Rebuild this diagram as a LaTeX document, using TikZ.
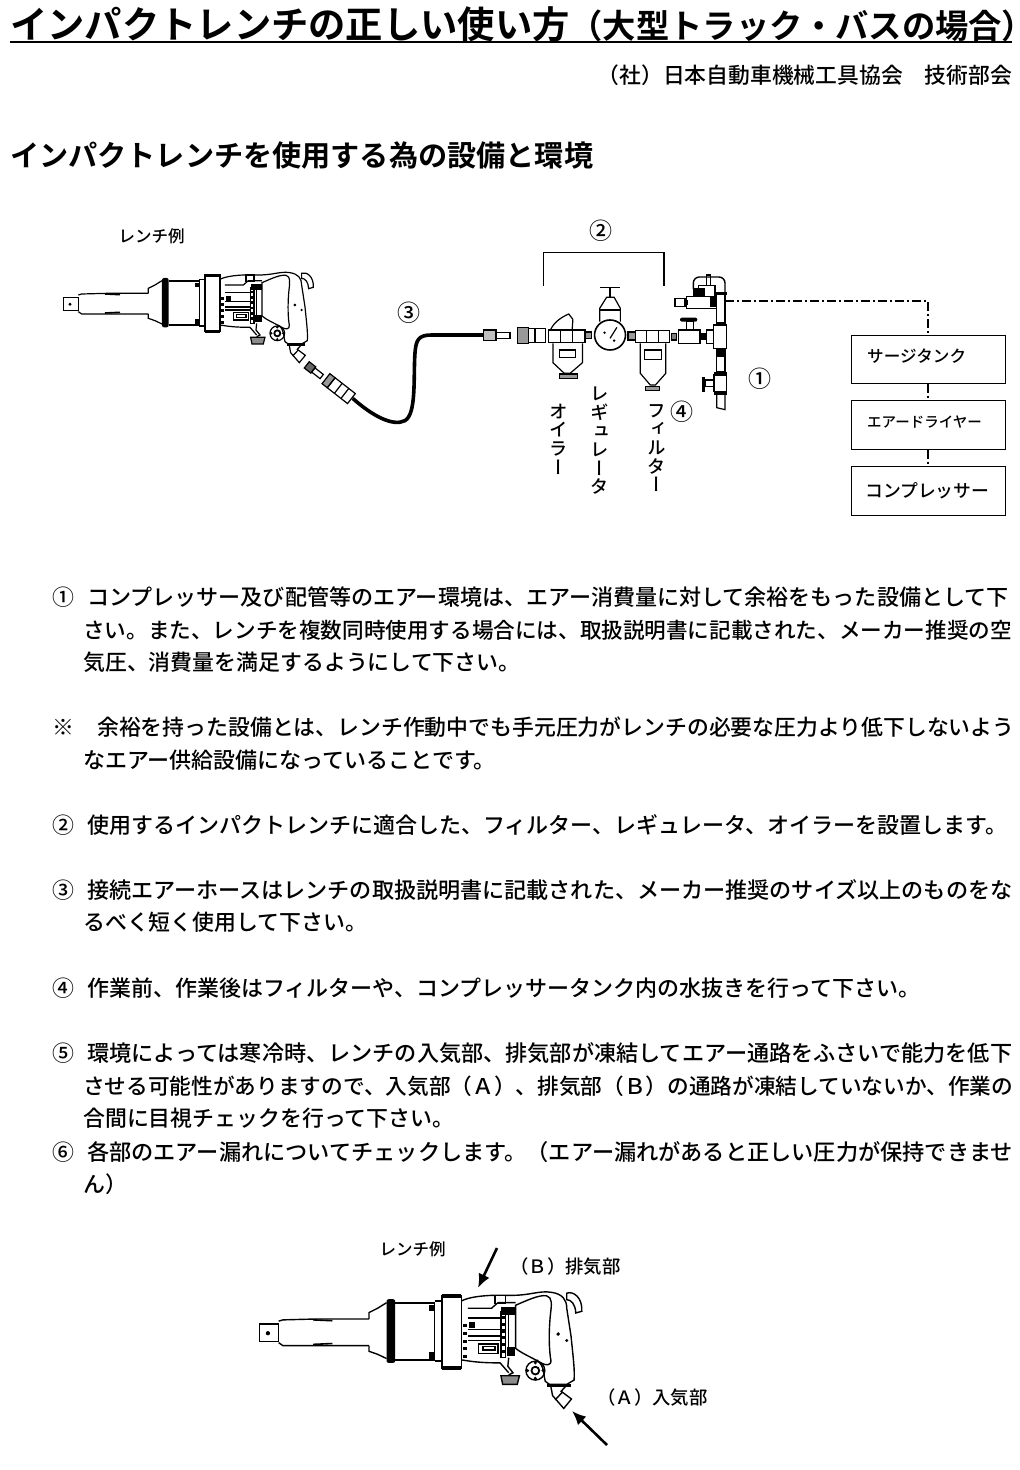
\documentclass[tikz,border=0pt]{standalone}
\usepackage{fontspec}
\usepackage{amsmath,graphicx}
\usetikzlibrary{arrows.meta}
\usetikzlibrary{positioning}
\newfontfamily\jp{Noto Sans CJK JP Medium}
\newfontfamily\jpm{Noto Sans CJK JP Medium}
\newfontfamily\jpb{Noto Sans CJK JP Bold}
\newfontfamily\jph[RawFeature=+halt]{Noto Sans CJK JP Bold}
\newfontfamily\jpv[RawFeature=+vert]{Noto Sans CJK JP Medium}

\newcommand{\drawwrench}{
    % drive and shank
    \draw [toolline] (70,262) rectangle (115,302);
    \fill (90,283) circle [radius=5];
    \draw [toolline] (115,255) -- (125,252) -- (200,250) -- (325,250);
    \draw [toolline] (115,305) -- (125,312) -- (200,312) -- (325,312);
    \draw [line width=1.6pt] (195,252) -- (240,254);
    \draw [line width=1.6pt] (195,309) -- (240,307);
    % hammer case
    \draw [toolline] (325,250) -- (325,235) -- (345,225) -- (366,212);
    \draw [toolline] (325,312) -- (325,325) -- (345,332) -- (366,342);
    \fill [rounded corners=2] (366,204) rectangle (386,352);
    \draw [toolline] (386,213) -- (478,213) -- (478,345) -- (386,345);
    \fill (465,218) rectangle (478,232);
    \fill (465,326) rectangle (478,342);
    \draw [toolline] (478,208) -- (495,208) -- (495,348) -- (478,348);
    \draw [toolline] (495,195) rectangle (540,365);
    \fill (495,192) rectangle (540,200);
    \fill (495,360) rectangle (540,368);
    % body and handle
    \draw [toolline] (540,208) .. controls (555,200) and (590,193) .. (650,195) .. controls (700,196) and (720,183) .. (750,188) .. controls (775,192) and (785,205) .. (785,225) -- (795,290) .. controls (800,340) and (804,370) .. (802,392) -- (785,402) -- (745,402) -- (735,395) .. controls (730,380) and (735,360) .. (715,345);
    \draw [toolline] (666,218) .. controls (690,208) and (720,193) .. (738,196) .. controls (752,200) and (750,215) .. (747,240) .. controls (742,290) and (745,330) .. (748,345) .. controls (750,360) and (735,358) .. (725,352) .. controls (705,340) and (680,330) .. (666,318) -- cycle;
    \draw [toolline] (785,190) .. controls (800,184) and (822,200) .. (820,232) -- (806,236) .. controls (805,215) and (795,205) .. (785,205) -- cycle;
    \draw [toolline] (540,345) .. controls (570,350) and (590,352) .. (630,352) -- (650,375);
    \draw [toolline] (555,225) -- (610,225) -- (625,212) -- (666,212);
    \draw [toolline] (618,195) rectangle (642,214);
    \fill (765,285) circle [radius=4.5];
    \fill (785,300) circle [radius=4];
    % motor housing details
    \foreach \y in {262,280,298,316,334} {
      \fill (544,\y) rectangle (552,\y+7);
    }
    \foreach \y in {232,248,264,280,296,312,328} {
      \draw [toolline] (632,\y) rectangle (642,\y+12);
    }
    \fill (632,222) rectangle (665,240);
    \fill (645,314) rectangle (665,335);
    \draw [toolline] (650,240) -- (650,314);
    \draw [toolline] (555,248) -- (630,248);
    \draw [line width=2pt] (555,290) -- (630,290);
    \draw [toolline] (555,275) -- (630,275);
    \draw [toolline] (555,300) -- (630,300);
    \draw [toolline] (580,308) rectangle (625,330);
    \draw [toolline] (590,314) rectangle (618,322);
    \fill (558,258) rectangle (572,272);
    % knobs and inlet elbow
    \draw [toolline] (712,370) circle [radius=22];
    \draw [line width=1.8pt] (712,370) circle [radius=9];
    \fill (712,352) circle [radius=4];
    \fill (712,388) circle [radius=4];
    \fill (694,370) circle [radius=4];
    \fill (730,370) circle [radius=4];
    \draw [toolline] (650,340) -- (648,360) -- (660,375) -- (650,380);
    \draw [toolline, fill=black!45] (632,382) -- (675,382) -- (670,402) -- (636,402) -- cycle;
    \fill (740,400) rectangle (795,407);
    \draw [toolline] (748,407) -- (752,428) -- (778,458) -- (796,436) -- (772,418) -- (782,407);
    \draw [toolline] (758,438) -- (775,420);
}

\begin{document}
\begin{tikzpicture}[x=1pt,y=-1pt,
    toolline/.style={line width=1.2pt},
    tankbox/.style={draw,line width=1pt,minimum width=154pt,inner sep=0pt},
    bodytext/.style={anchor=west,inner sep=0pt,font=\jpm\fontsize{#1}{24}\selectfont},
    bodytext/.default=21.9,
    smalltext/.style={inner sep=0pt,font=\jpm\fontsize{16.5}{18}\selectfont},
    marktext/.style={inner sep=0pt,font=\jp\fontsize{23}{24}\selectfont},
    stacktext/.style={inner sep=0pt,align=center,font=\jpv\fontsize{18.4}{18.6}\selectfont},
    dashdot/.style={line width=1.1pt,dash pattern=on 9pt off 3pt on 2pt off 3pt},
    bigarrow/.style={-{Latex[length=14pt,width=12pt]},line width=2.6pt}]
    \useasboundingbox (0,0) rectangle (1020,1470);

    % headings
    \node [anchor=west,inner sep=0pt,font=\jpb\fontsize{37.3}{38}\selectfont] (title) at (10,24) {インパクトレンチの正しい使い方{\fontsize{33.3}{38}\selectfont（大型トラック・バスの場合{\jph ）}}};
    \draw [line width=1.8pt] (10,42) -- (1012,42);
    \node [anchor=east,inner sep=0pt,font=\jpm\fontsize{21.8}{24}\selectfont] (society) at (1012,75) {（社）日本自動車機械工具協会　技術部会};
    \node [anchor=west,inner sep=0pt,font=\jpb\fontsize{29.15}{32}\selectfont] (heading) at (10,155) {インパクトレンチを使用する為の設備と環境};

    % wrench with hose
    \node [smalltext,anchor=west] (sample) at (118.5,236) {レンチ例};
    \begin{scope}[shift={(40,210)},x=0.3333pt,y=-0.3333pt]
      \drawwrench
      \draw [toolline,fill=black!60,rotate around={-38:(820,480)}] (795,468) rectangle (820,492);
      \draw [toolline,rotate around={-38:(820,480)}] (820,472) rectangle (852,488);
      \draw [toolline,fill=black!40,rotate around={-38:(895,535)}] (848,516) rectangle (868,554);
      \draw [toolline,rotate around={-38:(895,535)}] (868,516) rectangle (945,554);
      \draw [toolline,rotate around={-38:(895,535)}] (895,516) -- (895,554) (920,516) -- (920,554);
      \draw [line width=3.6pt] (938,565) .. controls (1000,620) and (1060,650) .. (1095,632) .. controls (1130,612) and (1120,500) .. (1125,430) .. controls (1128,390) and (1135,375) .. (1175,375) -- (1330,375);
      \draw [toolline,fill=black!25] (1330,360) rectangle (1368,392);
      \draw [toolline] (1368,367) rectangle (1410,386);
    \end{scope}

    % regulator set
    \begin{scope}[shift={(480,210)},x=0.344pt,y=-0.3333pt]
      \draw [line width=1.4pt] (185,228) -- (185,128) -- (535,128) -- (535,228);
      % coupler
      \draw [toolline,fill=black!40] (108,352) rectangle (140,400);
      \draw [toolline] (140,355) rectangle (190,398);
      \draw [toolline] (160,355) -- (160,398);
      % oiler
      \draw [toolline] (200,360) rectangle (305,398);
      \draw [toolline] (235,360) -- (235,398) (270,360) -- (270,398);
      \draw [toolline] (205,360) .. controls (215,335) and (240,320) .. (258,312) -- (270,328) -- (268,358);
      \draw [toolline] (212,400) -- (212,458) -- (245,490) -- (262,490) -- (298,458) -- (298,400);
      \draw [toolline] (230,420) rectangle (278,442);
      \draw [toolline,fill=black!40] (232,492) rectangle (284,505);
      % regulator
      \draw [toolline,fill=black!40] (305,366) rectangle (325,386);
      \draw [line width=1.6pt] (378,375) circle [radius=45];
      \draw [toolline] (378,385) -- (398,352);
      \fill (362,368) circle [radius=4];
      \fill (390,392) circle [radius=4];
      \draw [toolline] (348,335) -- (348,295) -- (368,262) -- (390,262) -- (408,295) -- (408,335);
      \draw [toolline] (348,300) -- (408,300);
      \draw [line width=1.6pt] (350,232) -- (408,232);
      \draw [line width=1.6pt] (378,232) -- (378,262);
      \draw [toolline,fill=black!40] (430,366) rectangle (452,390);
      % filter
      \draw [toolline] (452,362) rectangle (552,398);
      \draw [toolline] (485,362) -- (485,398) (518,362) -- (518,398);
      \draw [toolline] (466,400) -- (466,490) -- (495,525) -- (510,525) -- (540,490) -- (540,400);
      \draw [toolline] (478,420) rectangle (528,448);
      \draw [toolline,fill=black!40] (480,530) rectangle (522,541);
    \end{scope}

    % stop valve and riser
    \begin{scope}[shift={(660,265)},x=0.3333pt,y=-0.3333pt]
      \draw [toolline,fill=black!50] (35,205) rectangle (50,225);
      \draw [toolline] (55,195) rectangle (120,235);
      \draw [toolline] (80,170) rectangle (100,195);
      \fill [rounded corners=2] (60,158) rectangle (112,170);
      \fill (120,205) rectangle (140,225);
      \draw [toolline] (140,195) rectangle (160,235);
      \draw [toolline] (160,180) rectangle (200,250);
      \draw [toolline] (170,85) rectangle (195,180);
      \fill (165,80) rectangle (202,90);
      \fill (168,170) rectangle (195,180);
      \draw [toolline] (170,255) rectangle (195,320);
      \fill (168,255) rectangle (195,275);
      \fill (162,320) rectangle (200,330);
      \draw [toolline] (162,330) rectangle (200,380);
      \fill (162,380) rectangle (200,390);
      \draw [toolline] (135,345) rectangle (162,365);
      \fill (125,335) rectangle (135,380);
      \draw [toolline] (170,390) -- (170,428) -- (195,434) -- (195,390);
      % upper branch
      \draw [line width=1.4pt,rounded corners=6] (100,72) -- (100,36) -- (195,36) -- (195,82);
      \draw [toolline] (140,30) rectangle (152,62);
      \draw [toolline] (80,95) rectangle (170,130);
      \draw [toolline] (115,62) rectangle (165,95);
      \draw [toolline] (45,100) rectangle (75,125);
      \fill (75,105) rectangle (85,120);
      \fill (100,70) rectangle (135,95);
      \fill (150,92) rectangle (172,125);
    \end{scope}

    % air supply
    \coordinate (pipe) at (725,301);
    \node [tankbox,minimum height=48pt] (tank) at (928,359) {};
    \node [tankbox,minimum height=49pt] (dryer) at (928,424.5) {};
    \node [tankbox,minimum height=49pt] (compressor) at (928,490.5) {};
    \node [inner sep=0pt,anchor=west,font=\jpm\fontsize{16.6}{18}\selectfont] (tanktext) at (867,356) {サージタンク};
    \node [inner sep=0pt,anchor=west,font=\jpm\fontsize{14.5}{18}\selectfont] (dryertext) at (867,422) {エアードライヤー};
    \node [inner sep=0pt,anchor=west,font=\jpm\fontsize{17.8}{18}\selectfont] (compressortext) at (865,491) {コンプレッサー};
    \draw [dashdot] (pipe) -| (tank.north);
    \draw [dashdot] (tank) -- (dryer);
    \draw [dashdot] (dryer) -- (compressor);

    \node [marktext] (mark2) at (601,231) {②};
    \node [marktext] (mark3) at (409,313) {③};
    \node [marktext] (mark1) at (760,379) {①};
    \node [marktext] (mark4) at (682,412) {④};
    \node [stacktext] (oiler) at (559,439) {オ\\イ\\ラ\\ー};
    \node [stacktext] (regulator) at (600,441) {レ\\ギ\\ュ\\レ\\ー\\タ};
    \node [stacktext] (filter) at (657,448) {フ\\ィ\\ル\\タ\\ー};

    % notes
    \node [bodytext] (num1) at (52,597) {①};
    \node [bodytext=22.05] (line1a) at (87,597) {コンプレッサー及び配管等のエアー環境は、エアー消費量に対して余裕をもった設備として下};
    \node [bodytext=21.6] (line1b) at (83,630) {さい。また、レンチを複数同時使用する場合には、取扱説明書に記載された、メーカー推奨の空};
    \node [bodytext] (line1c) at (83,662) {気圧、消費量を満足するようにして下さい。};
    \node [bodytext] (note) at (52,727) {※};
    \node [bodytext=21.85] (linena) at (97,727) {余裕を持った設備とは、レンチ作動中でも手元圧力がレンチの必要な圧力より低下しないよう};
    \node [bodytext=22] (linenb) at (83,760) {なエアー供給設備になっていることです。};
    \node [bodytext] (num2) at (52,825) {②};
    \node [bodytext=22] (line2a) at (87,825) {使用するインパクトレンチに適合した、フィルター、レギュレータ、オイラーを設置します。};
    \node [bodytext] (num3) at (52,890) {③};
    \node [bodytext=22.1] (line3a) at (87,890) {接続エアーホースはレンチの取扱説明書に記載された、メーカー推奨のサイズ以上のものをな};
    \node [bodytext] (line3b) at (83,922) {るべく短く使用して下さい。};
    \node [bodytext] (num4) at (52,988) {④};
    \node [bodytext=22] (line4a) at (87,988) {作業前、作業後はフィルターや、コンプレッサータンク内の水抜きを行って下さい。};
    \node [bodytext] (num5) at (52,1053) {⑤};
    \node [bodytext=22.14] (line5a) at (87,1053) {環境によっては寒冷時、レンチの入気部、排気部が凍結してエアー通路をふさいで能力を低下};
    \node [bodytext=21.67] (line5b) at (83,1086) {させる可能性がありますので、入気部（Ａ）、排気部（Ｂ）の通路が凍結していないか、作業の};
    \node [bodytext] (line5c) at (83,1118) {合間に目視チェックを行って下さい。};
    \node [bodytext] (num6) at (52,1152) {⑥};
    \node [bodytext=22.19] (line6a) at (87,1152) {各部のエアー漏れについてチェックします。（エアー漏れがあると正しい圧力が保持できませ};
    \node [bodytext] (line6b) at (83,1184) {ん）};

    % lower wrench
    \node [smalltext,anchor=west] (sampleb) at (379.5,1249) {レンチ例};
    \begin{scope}[shift={(229.2,1211.5)},x=0.43pt,y=-0.43pt,toolline/.style={line width=1.4pt}]
      \drawwrench
    \end{scope}
    \node [smalltext,anchor=west,font=\jpm\fontsize{18.4}{18}\selectfont] (exhaust) at (510,1266) {（Ｂ）排気部};
    \node [smalltext,anchor=west,font=\jpm\fontsize{18.4}{18}\selectfont] (intake) at (597,1397) {（Ａ）入気部};
    \coordinate (exhauststart) at (497,1248);
    \coordinate (exhaustend) at (478,1288);
    \coordinate (intakestart) at (607,1445);
    \coordinate (intakeend) at (572,1411);
    \draw [bigarrow] (exhauststart) -- (exhaustend);
    \draw [bigarrow] (intakestart) -- (intakeend);
  \end{tikzpicture}
\end{document}
